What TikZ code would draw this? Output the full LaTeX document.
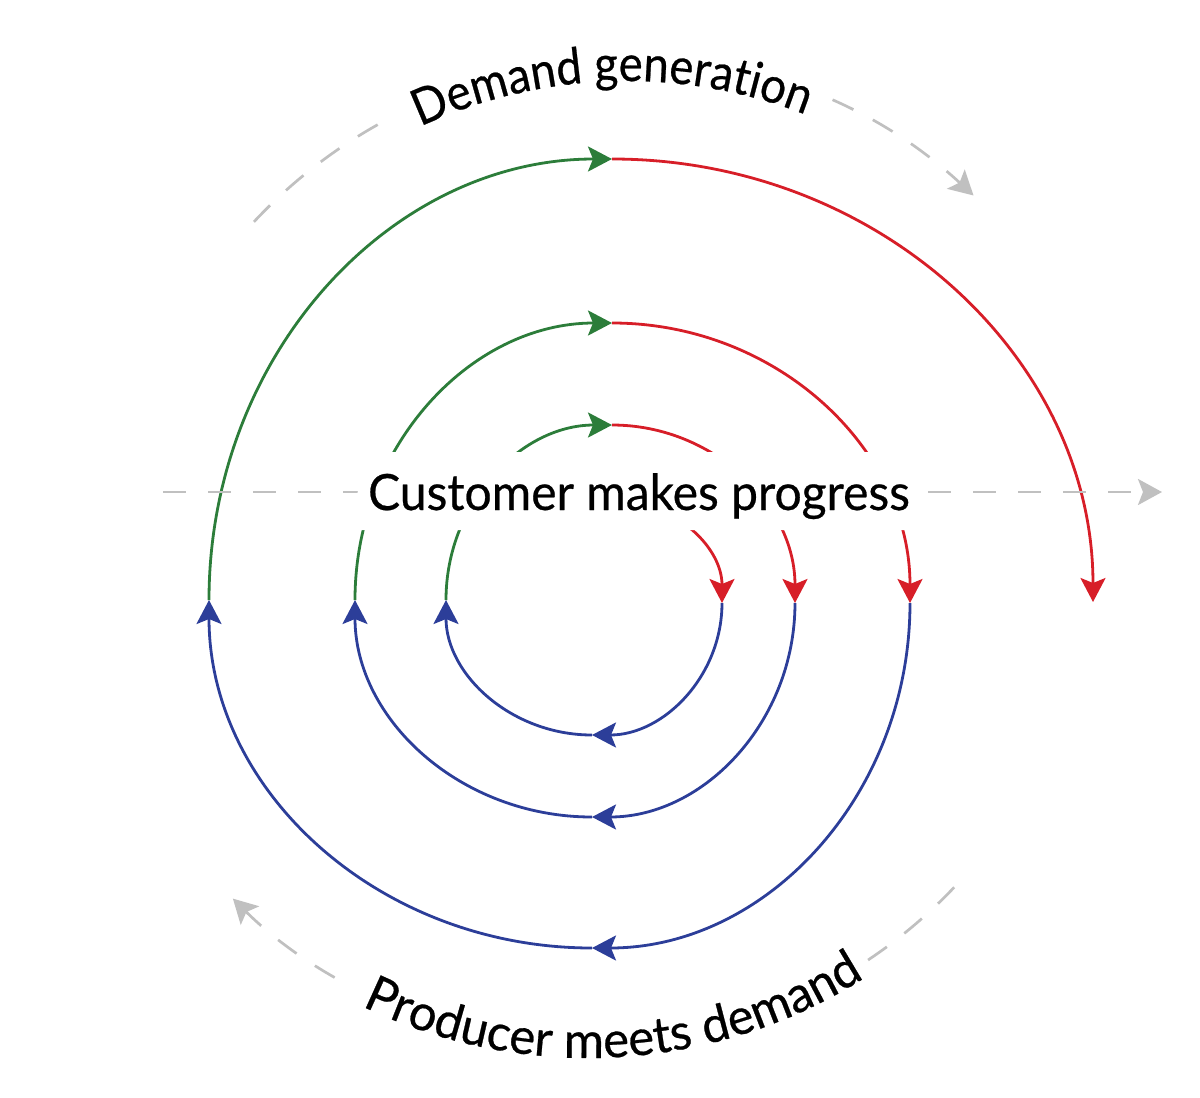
\documentclass[tikz,border=0pt]{standalone}
\usepackage{fontspec}
\setmainfont{Lato}
\newfontfamily\lblfamA{Lato}[FakeStretch=0.96,FakeBold=0.5]
\newfontfamily\lblfamB{Lato}[FakeStretch=0.91,FakeBold=0.5]
\newfontfamily\lblfamC{Lato}[FakeStretch=0.98,FakeBold=0.5]
\usetikzlibrary{arrows.meta,decorations.text,calc}
\definecolor{sgreen}{RGB}{44,125,58}
\definecolor{sred}{RGB}{215,30,40}
\definecolor{sblue}{RGB}{44,62,153}
\definecolor{dgreyc}{RGB}{192,192,192}
\newcommand{\lblfontA}{\lblfamA\fontsize{25}{30}\selectfont}
\newcommand{\lblfontB}{\lblfamB\fontsize{25}{30}\selectfont}
\newcommand{\lblfontC}{\lblfamC\fontsize{25}{30}\selectfont}
\begin{document}
\begin{tikzpicture}[x=0.5pt,y=-0.5pt,
  sarc/.style={line width=1.4pt,-{Stealth[length=12pt,width=12.5pt,inset=2.5pt]}},
  dgrey/.style={dgreyc,line width=1.35pt,dash pattern=on 11.5pt off 11pt,-{Stealth[length=12pt,width=13pt,inset=2.5pt]}},
  band/.style={white}]
\useasboundingbox (0,0) rectangle (1200,1098);
% spiral points
\coordinate (T0) at (612,500);
\coordinate (R1) at (722,603);
\coordinate (B1) at (592,735);
\coordinate (L1) at (446,600);
\coordinate (T1) at (612,425);
\coordinate (R2) at (795,603);
\coordinate (B2) at (592,817);
\coordinate (L2) at (355,600);
\coordinate (T2) at (612,323);
\coordinate (R3) at (910,603);
\coordinate (B3) at (592,948);
\coordinate (L3) at (209,600);
\coordinate (T3) at (612,159);
\coordinate (R4) at (1093,602);
% spiral arcs
\draw[sarc,sred]   (T0) .. controls +(60.8,0) and +(0,-56.9) .. (R1);
\draw[sarc,sblue]  (R1) .. controls +(0,72.9) and +(71.8,0) .. (B1);
\draw[sarc,sblue]  (B1) .. controls +(-80.6,0) and +(0,74.6) .. (L1);
\draw[sarc,sgreen] (L1) .. controls +(0,-96.7) and +(-91.7,0) .. (T1);
\draw[sarc,sred]   (T1) .. controls +(101.1,0) and +(0,-98.3) .. (R2);
\draw[sarc,sblue]  (R2) .. controls +(0,118.2) and +(112.1,0) .. (B2);
\draw[sarc,sblue]  (B2) .. controls +(-130.9,0) and +(0,119.9) .. (L2);
\draw[sarc,sgreen] (L2) .. controls +(0,-153) and +(-141.9,0) .. (T2);
\draw[sarc,sred]   (T2) .. controls +(164.6,0) and +(0,-154.6) .. (R3);
\draw[sarc,sblue]  (R3) .. controls +(0,190.5) and +(175.6,0) .. (B3);
\draw[sarc,sblue]  (B3) .. controls +(-211.5,0) and +(0,192.2) .. (L3);
\draw[sarc,sgreen] (L3) .. controls +(0,-243.6) and +(-222.6,0) .. (T3);
\draw[sarc,sred]   (T3) .. controls +(265.7,0) and +(0,-244.7) .. (R4);
% dashed guides
\coordinate (HL) at (163,492);
\coordinate (HR) at (1162,492);
\draw[dgrey] (HL) -- (HR);
\coordinate (ctop) at (627,571);
\coordinate (DA) at ($(ctop)+(223.1:511)$);
\draw[dgrey] (DA) arc[start angle=223.1,end angle=312.7,radius=511];
\coordinate (cbot) at (588,541);
\coordinate (DP) at ($(cbot)+(43.4:504)$);
\draw[dgrey] (DP) arc[start angle=43.4,end angle=134.8,radius=504];
% label backgrounds
\draw[band,line width=33pt] ($(ctop)+(241:507)$) arc[start angle=241,end angle=293.5,radius=507];
\draw[band,line width=37pt] ($(cbot)+(56.5:506)$) arc[start angle=56.5,end angle=119.5,radius=506];
\fill[band] (369,452) -- (895,452) -- (938,530) -- (347,530) -- cycle;
% labels
\path[decorate,decoration={text along path,text={|\lblfontB|Demand generation},text align=center}]
  ($(ctop)+(228.2:490)$) arc[start angle=228.2,end angle=308.2,radius=490];
\path[decorate,decoration={text along path,text={|\lblfontC|Producer meets demand},text align=center}]
  ($(cbot)+(127.8:517)$) arc[start angle=127.8,end angle=45.8,radius=517];
\node[font=\lblfontA,anchor=base,inner sep=0pt] (cmp) at (639,510) {Customer makes progress};
\end{tikzpicture}
\end{document}
